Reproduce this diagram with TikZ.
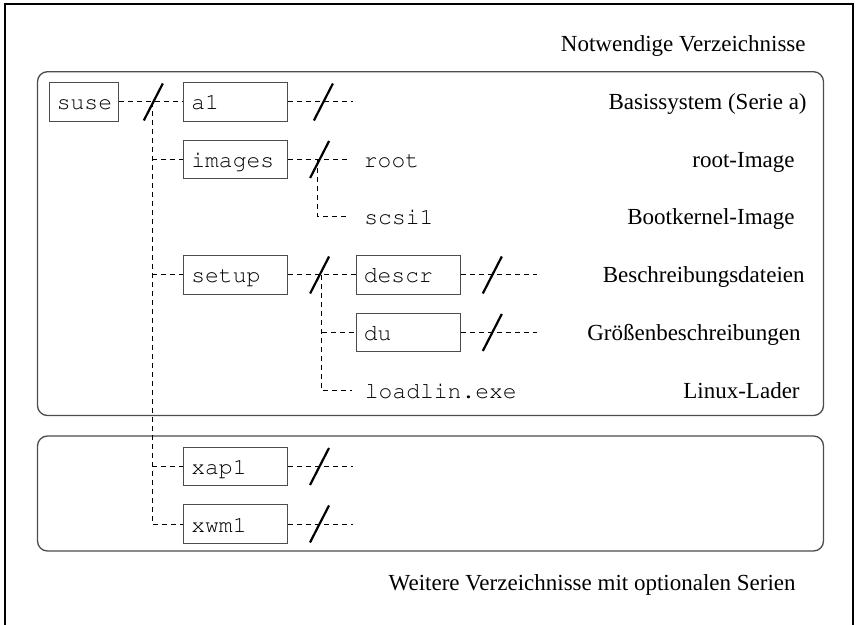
\documentclass[tikz,border=0pt]{standalone}
\usepackage[T1]{fontenc}
\usepackage{fontspec}
\setmainfont{Liberation Serif}
\newcommand\monofam{\fontencoding{T1}\fontfamily{pcr}\selectfont}
\definecolor{boxgray}{rgb}{0.3,0.3,0.3}
\tikzset{
  dirbox/.style={draw=boxgray, line width=0.65pt, minimum height=19.25pt,
    text width=44.3pt, inner xsep=3.85pt, inner ysep=0pt, align=left,
    text height=9pt, text depth=1pt, font=\monofam\fontsize{11.5}{13}\selectfont, anchor=west},
  smallbox/.style={dirbox, text width=27.2pt, inner xsep=3.6pt},
  filetext/.style={inner sep=0pt, text height=9pt, text depth=1pt,
    font=\monofam\fontsize{11.5}{13}\selectfont, anchor=west},
  desc/.style={inner sep=0pt, text height=9pt, text depth=1pt,
    font=\fontsize{11.5}{13}\selectfont, anchor=east},
  conn/.style={line width=0.5pt, dash pattern=on 2.5pt off 2pt},
  slashline/.style={line width=1.1pt},
  roundbox/.style={draw=boxgray, line width=0.65pt, rounded corners=5pt},
}
\begin{document}
\begin{tikzpicture}[x=0.5pt,y=-0.5pt]
\useasboundingbox (0,0) rectangle (856,625);
% outer frame
\draw[line width=1.25pt] (5,625) -- (5,4) -- (853,4) -- (853,625);
% group boxes
\draw[roundbox] (37.5,71.7) rectangle (823.5,415.5);
\draw[roundbox] (37.5,436) rectangle (823.5,551);
% headings
\node[desc] (hd1) at (806,44) {Notwendige Verzeichnisse};
\node[desc] (hd2) at (796,582) {Weitere Verzeichnisse mit optionalen Serien};
% directory boxes
\node[smallbox] (suse) at (49,102) {suse};
\node[dirbox] (a1) at (183,102) {a1};
\node[dirbox] (images) at (183,159.5) {images};
\node[dirbox] (setup) at (183,275) {setup};
\node[dirbox] (descr) at (355.5,275) {descr};
\node[dirbox] (du) at (355.5,332.5) {du};
\node[dirbox] (xapl) at (183,466.5) {xap1};
\node[dirbox] (xwml) at (183,524) {xwm1};
% file names
\node[filetext] (root) at (363.5,159.5) {root};
\node[filetext] (scsi) at (364,217) {scsi1};
\node[filetext] (loadlin) at (364.5,390.5) {loadlin.exe};
% descriptions
\node[desc] (d1) at (807,102) {Basissystem (Serie a)};
\node[desc] (d2) at (795,159.5) {root-Image};
\node[desc] (d3) at (795,217) {Bootkernel-Image};
\node[desc] (d4) at (805,275) {Beschreibungsdateien};
\node[desc] (d5) at (801,332.5) {Größenbeschreibungen};
\node[desc] (d6) at (800,390.5) {Linux-Lader};
% helper coordinates
\coordinate (t1) at (152.3,102);
\coordinate (t2) at (152.3,159.5);
\coordinate (t4) at (152.3,275);
\coordinate (t7) at (152.3,466.5);
\coordinate (t8) at (152.3,524);
\coordinate (e1) at (352.5,102);
\coordinate (v2) at (317.3,159.5);
\coordinate (v3) at (317.3,217);
\coordinate (w4) at (321.6,275);
\coordinate (w5) at (321.6,332.5);
\coordinate (w6) at (321.6,390.5);
\coordinate (e4) at (536.5,275);
\coordinate (e5) at (536.5,332.5);
\coordinate (e7) at (353,466.5);
\coordinate (e8) at (353,524);
% dashed connectors
\draw[conn] (suse.east) -- (a1.west);
\draw[conn] (t1) -- (t8) -- (xwml.west);
\draw[conn] (t2) -- (images.west);
\draw[conn] (t4) -- (setup.west);
\draw[conn] (t7) -- (xapl.west);
\draw[conn] (a1.east) -- (e1);
\draw[conn] (images.east) -- ([xshift=-8pt]root.west);
\draw[conn] (v2) -- (v3) -- ([xshift=-8pt]scsi.west);
\draw[conn] (setup.east) -- (descr.west);
\draw[conn] (w4) -- (w6) -- ([xshift=-6.5pt]loadlin.west);
\draw[conn] (w5) -- (du.west);
\draw[conn] (descr.east) -- (e4);
\draw[conn] (du.east) -- (e5);
\draw[conn] (xapl.east) -- (e7);
\draw[conn] (xwml.east) -- (e8);
% slashes
\coordinate (s1) at (153.3,102);
\coordinate (s2) at (323.4,102);
\coordinate (s3) at (319.6,159.5);
\coordinate (s4) at (319.6,275);
\coordinate (s5) at (492.3,275);
\coordinate (s6) at (492.3,332.5);
\coordinate (s7) at (319.5,466.5);
\coordinate (s8) at (319.5,524);
\foreach \s in {s1,s2,s3,s4,s5,s6,s7,s8}
  \draw[slashline] (\s) ++(-9.5,18.5) -- ++(19,-37);
\end{tikzpicture}
\end{document}
